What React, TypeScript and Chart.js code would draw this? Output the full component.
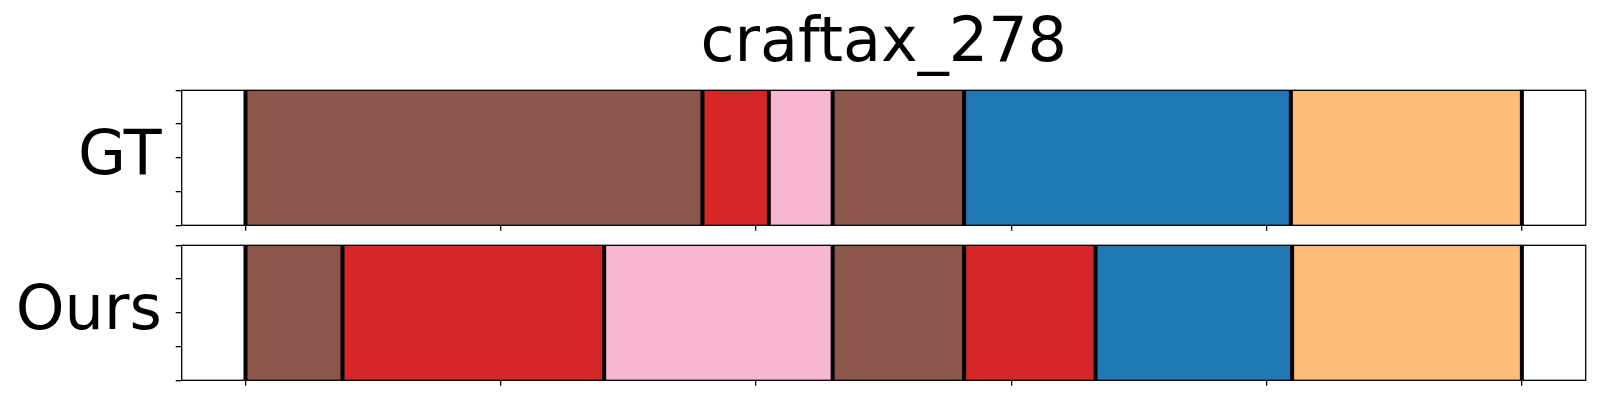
import React, { useEffect, useRef } from 'react';
import { Chart, registerables } from 'chart.js';

Chart.register(...registerables);

const TITLE = 'craftax_278';
const ROW_LABELS = ['GT', 'Ours'];
const CLASS_COLORS: Record<string, string> = {
  brown: '#8c564b',
  red: '#d62728',
  pink: '#f7b6d2',
  blue: '#1f77b4',
  orange: '#ffbb78',
};
const GT_BOUNDS = [0, 35.8, 41.0, 46.0, 56.3, 81.9, 100];
const GT_CLASSES = ['brown', 'red', 'pink', 'brown', 'blue', 'orange'];
const OURS_BOUNDS = [0, 7.6, 28.1, 46.0, 56.3, 66.6, 82.0, 100];
const OURS_CLASSES = ['brown', 'red', 'pink', 'brown', 'red', 'blue', 'orange'];
const X_TICKS = [0, 20, 40, 60, 80, 100];
const X_MIN = -5;
const X_MAX = 105;
const Y_TICKS = [0, 1, 2, 3, 4];
const Y_MAX = 4;
const Y_LABEL_AT = 2;

const FONT = 'DejaVu Sans';

const framePlugin = {
  id: 'frame',
  afterDraw(chart: any) {
    const { ctx, chartArea: a } = chart;
    ctx.save();
    ctx.strokeStyle = '#000';
    ctx.lineWidth = 1.3;
    ctx.strokeRect(a.left, a.top, a.right - a.left, a.bottom - a.top);
    ctx.restore();
  },
};

function buildConfig(
  bounds: number[],
  classes: string[],
  label: string,
  withTitle: boolean,
  padTop: number,
  xAxisHeight: number
): any {
  const segs = classes.map((c, i) => ({
    data: [
      { x: bounds[i], y: Y_MAX },
      { x: bounds[i + 1], y: Y_MAX },
    ],
    fill: 'origin',
    backgroundColor: CLASS_COLORS[c],
    borderColor: 'rgba(0,0,0,0)',
    borderWidth: 0,
    pointRadius: 0,
    order: 2,
  }));
  const lines = bounds.map((b) => ({
    data: [
      { x: b, y: 0 },
      { x: b, y: Y_MAX },
    ],
    fill: false,
    borderColor: '#000',
    borderWidth: 4,
    pointRadius: 0,
    order: 0,
  }));
  return {
    type: 'line',
    data: { datasets: [...lines, ...segs] },
    options: {
      responsive: false,
      animation: false,
      events: [],
      layout: { padding: { top: padTop, right: 14.3, bottom: 0, left: 0 } },
      plugins: {
        legend: { display: false },
        tooltip: { enabled: false },
        title: {
          display: withTitle,
          text: TITLE,
          color: '#000',
          fullSize: false,
          font: { family: FONT, size: 62, weight: 'normal', lineHeight: 1.2 },
          padding: { top: 7.7, bottom: 8.2 },
        },
      },
      scales: {
        x: {
          type: 'linear',
          min: X_MIN,
          max: X_MAX,
          afterBuildTicks: (s: any) => {
            s.ticks = X_TICKS.map((v) => ({ value: v }));
          },
          afterFit: (s: any) => {
            s.height = xAxisHeight;
            s.paddingLeft = 0;
            s.paddingRight = 0;
          },
          ticks: { display: false, autoSkip: false },
          grid: {
            drawOnChartArea: false,
            drawTicks: true,
            tickLength: 5.5,
            color: '#000',
            lineWidth: 1.3,
          },
          border: { display: false },
        },
        y: {
          type: 'linear',
          min: 0,
          max: Y_MAX,
          afterBuildTicks: (s: any) => {
            s.ticks = Y_TICKS.map((v) => ({ value: v }));
          },
          afterFit: (s: any) => {
            s.width = 181.7;
            s.paddingTop = 0;
            s.paddingBottom = 0;
          },
          ticks: {
            autoSkip: false,
            color: '#000',
            padding: 14,
            font: { family: FONT, size: 62 },
            callback: (v: any) => (v === Y_LABEL_AT ? label : ''),
          },
          grid: {
            drawOnChartArea: false,
            drawTicks: true,
            tickLength: 6,
            color: '#000',
            lineWidth: 1.3,
          },
          border: { display: false },
        },
      },
    },
    plugins: [framePlugin],
  };
}

export default function App() {
  const ref1 = useRef<HTMLCanvasElement>(null);
  const ref2 = useRef<HTMLCanvasElement>(null);

  useEffect(() => {
    Chart.defaults.font.family = FONT;
    const c1 = new Chart(
      ref1.current as HTMLCanvasElement,
      buildConfig(GT_BOUNDS, GT_CLASSES, ROW_LABELS[0], true, 0, 235 - 225.3)
    );
    const c2 = new Chart(
      ref2.current as HTMLCanvasElement,
      buildConfig(OURS_BOUNDS, OURS_CLASSES, ROW_LABELS[1], false, 245.3 - 235, 165 - (380.3 - 235))
    );
    return () => {
      c1.destroy();
      c2.destroy();
    };
  }, []);

  return (
    <div
      style={{
        position: 'fixed',
        left: 0,
        top: 0,
        width: 1600,
        height: 400,
        background: '#fff',
      }}
    >
      <canvas
        ref={ref1}
        width={1600}
        height={235}
        style={{ position: 'absolute', left: 0, top: 0, display: 'block' }}
      />
      <canvas
        ref={ref2}
        width={1600}
        height={165}
        style={{ position: 'absolute', left: 0, top: 235, display: 'block' }}
      />
    </div>
  );
}
